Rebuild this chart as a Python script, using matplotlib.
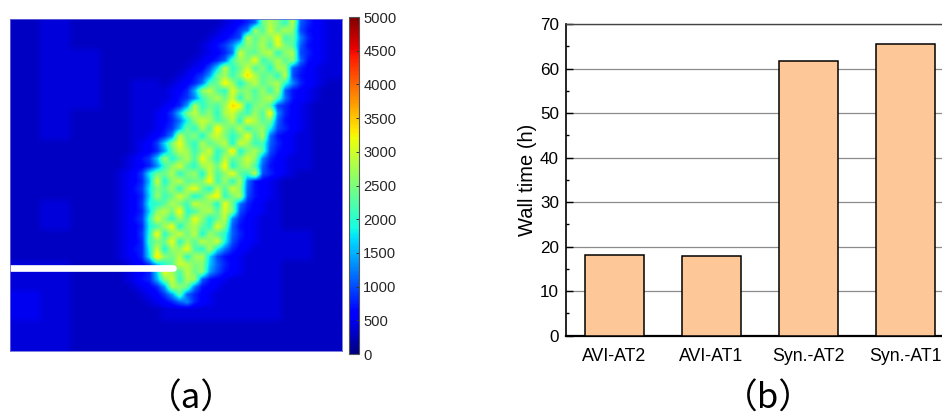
import numpy as np
import matplotlib.pyplot as plt
from matplotlib.ticker import MultipleLocator

plt.rcParams['font.family'] = ['Liberation Sans', 'DejaVu Sans']

# panel (a), all values in hundreds
background = [
    [3, 4, 3, 3, 3, 3, 3, 3, 3, 4, 4],
    [3, 4, 4, 3, 3, 3, 3, 3, 4, 4, 4],
    [3, 4, 4, 3, 4, 3, 3, 4, 4, 4, 3],
    [3, 4, 3, 3, 4, 3, 4, 4, 4, 4, 3],
    [3, 3, 3, 3, 3, 3, 4, 4, 4, 4, 3],
    [3, 3, 3, 3, 3, 4, 4, 4, 4, 3, 3],
    [3, 4, 3, 3, 3, 4, 4, 4, 4, 3, 3],
    [3, 3, 3, 3, 3, 4, 4, 4, 4, 4, 3],
    [4, 4, 3, 3, 3, 4, 4, 4, 4, 3, 3],
    [5, 4, 3, 3, 3, 4, 4, 4, 4, 3, 3],
    [4, 4, 3, 3, 3, 3, 3, 3, 3, 3, 3],
]
# first column of the band in each row, then its cells as base-36 digits
band_start = [28, 27, 26, 25, 25, 24, 23, 22, 21, 20, 20, 19, 18, 18, 18, 17, 16, 16, 15,
              15, 14, 14, 14, 14, 14, 14, 14, 14, 14, 14, 14, 14, 15, 15, 15, 16, 17, 18]
band_cells = [
    '4568bospktb8654', '4569crmuosqa7654', '4568atnrpwlod8654', '4579dkqosmvpnb7654',
    '4568cuonrtkqsa8654', '4568bmrpwlosnqc7654', '456ahtkoumqjsrb8654', '4579eorlqysnpkta7654',
    '4568cmoxrjptnqskd8654', '4568fqtnkvpqmrlsb7654', '4579dlpsoukrnqtmc7654', '4568eskomrywjpqna8654',
    '4569gptnqksuolrmxd8654', '4568cjqurmotkwsnpb7654', '4579foksmxqntlprja8654', '4568dtnqjrupkowmsc7654',
    '4569hpwoksnqtjurlmb8654', '4568entrlqukoyjpsma7654', '4579grjosmwqktnpuqd8654', '4568dlqunkrtoxjpsmb7654',
    '4569iooskprjumqwnlta8654', '4568gujqtnopxlrksc7654', '4579ipnrkswojtmuqb7654', '4568hrlouqjntxkpsa7654',
    '4569jknsplurqjwoc8654', '4568hqtoxkmrsnupa7654', '4579kupkrnwqjotd8654', '4568jmrwjqsnkvpb7654',
    '4569kxkquotjrnkb8654', '4568lpowkrntquja7654', '4578jujrqwmksic8654', '4568iyqotkrsha7654',
    '4569gknuspqgb8654', '4568hwrmtoqea7654', '4578fpuksrb7654', '4568esqoc7654',
    '4569enb8654', '4568bd8654',
]
crack_x = [0.0, 0.49]
crack_y = [0.25, 0.25]
cbar_ticks = list(range(0, 5001, 500))

labels = ['AVI-AT2', 'AVI-AT1', 'Syn.-AT2', 'Syn.-AT1']
wall_time = [18.1, 17.9, 61.8, 65.6]

W, H = 942, 417

field = np.kron(np.array(background), np.ones((4, 4))) * 100
for row, (start, cells) in enumerate(zip(band_start, band_cells)):
    for k, c in enumerate(cells):
        if start + k < 44:
            field[row, start + k] = max(field[row, start + k], int(c, 36) * 100)


def box(x0, y0, x1, y1):
    # pixel box (y from top) to figure coords
    return [x0 / W, 1 - y1 / H, (x1 - x0) / W, (y1 - y0) / H]


fig = plt.figure(figsize=(W / 100, H / 100), dpi=100)

ax1 = fig.add_axes(box(10, 19, 342, 351))
im = ax1.imshow(field, cmap='jet', vmin=0, vmax=5000, extent=[0, 1, 0, 1],
                interpolation='bilinear', aspect='auto')
ax1.plot(crack_x, crack_y, color='white', lw=4.8, solid_capstyle='round')
ax1.set_xlim(0, 1)
ax1.set_ylim(0, 1)
ax1.set_xticks([])
ax1.set_yticks([])
for s in ax1.spines.values():
    s.set_color('#6a6ad8')
    s.set_linewidth(0.6)

cax = fig.add_axes(box(349, 17, 359, 354))
cb = fig.colorbar(im, cax=cax, ticks=cbar_ticks)
cb.ax.tick_params(direction='in', length=2.5, width=0.7, labelsize=10.6,
                  labelcolor='#262626', color='#333333', pad=3)
cb.outline.set_edgecolor('#555555')
cb.outline.set_linewidth(0.8)

ax2 = fig.add_axes(box(566, 24, 954, 335.7))
ax2.bar(range(1, 5), wall_time, width=0.6, color='#FDC797', edgecolor='black',
        linewidth=1.1, zorder=3)
ax2.set_xlim(0.5, 4.5)
ax2.set_ylim(0, 70)
ax2.set_xticks(range(1, 5))
ax2.set_xticklabels(labels)
ax2.yaxis.set_major_locator(MultipleLocator(10))
ax2.yaxis.set_minor_locator(MultipleLocator(5))
ax2.grid(axis='y', color='#8c8c8c', lw=0.9, zorder=0)
ax2.tick_params(axis='y', which='major', direction='in', length=5, width=1,
                labelsize=12.3, pad=5)
ax2.tick_params(axis='y', which='minor', direction='in', length=2.5, width=1)
ax2.tick_params(axis='x', length=0, labelsize=12.8, pad=9)
ax2.set_ylabel('Wall time (h)', fontsize=14.5, labelpad=2)
ax2.spines['right'].set_visible(False)
ax2.spines['left'].set_linewidth(1.2)
ax2.spines['bottom'].set_linewidth(1.6)
ax2.spines['top'].set_linewidth(1.0)
ax2.spines['top'].set_color('#444444')

cjk = ['Noto Sans CJK SC', 'DejaVu Sans']
fig.text(191 / W, 1 - 399 / H, '（a）', family=cjk, fontsize=25, ha='center', va='center')
fig.text(768 / W, 1 - 399 / H, '（b）', family=cjk, fontsize=25, ha='center', va='center')

fig.savefig('out.png', dpi=100)
